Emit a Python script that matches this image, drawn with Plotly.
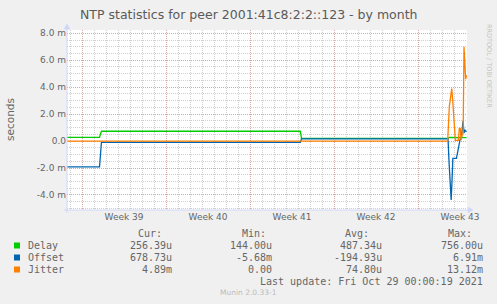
import plotly.graph_objects as go

# ---- data (x = days since Mon 2021-09-27 00:00, start of week 39; y = milliseconds)
delay_x = [-1.25, 1.46, 1.62, 18.19, 18.29, 30.5, 30.6, 32.04]
delay_y = [0.28, 0.28, 0.73, 0.73, 0.20, 0.20, 0.28, 0.26]

offset_x = [-1.25, 1.46, 1.62, 18.19, 18.29, 30.5, 30.58, 30.68, 30.76, 30.83, 30.9,
            31.2, 31.3, 31.4, 31.5, 31.62, 31.75, 31.83, 31.92, 32.04]
offset_y = [-1.92, -1.92, -0.09, -0.09, 0.17, 0.17, -1.5, -3.2, -4.37, -3.0, -1.28,
            -1.28, -0.9, -0.3, 0.1, 0.3, 1.5, 0.6, 0.8, 0.68]

jitter_x = [-1.25, 30.47, 30.61, 30.72, 30.81, 30.89, 31.0, 31.11, 31.36, 31.44, 31.52,
            31.58, 31.69, 31.76, 31.83, 31.9, 31.97, 32.04]
jitter_y = [0.0, 0.0, 2.6, 3.3, 3.9, 3.0, 1.4, 0.05, 0.05, 0.95, 0.95,
            0.05, 0.5, 0.6, 7.0, 6.0, 4.6, 4.9]

week_starts = [0, 7, 14, 21, 28]
week_labels = ["Week 39", "Week 40", "Week 41", "Week 42", "Week 43"]
y_ticks = [-4, -2, 0, 2, 4, 6, 8]
y_labels = ["-4.0 m", "-2.0 m", "0.0", "2.0 m", "4.0 m", "6.0 m", "8.0 m"]

series_names = ["Delay", "Offset", "Jitter"]
series_colors = ["#00CC00", "#0066B3", "#FF8000"]
cur_vals = ["256.39u", "678.73u", "4.89m"]
min_vals = ["144.00u", "-5.68m", "0.00"]
avg_vals = ["487.34u", "-194.93u", "74.80u"]
max_vals = ["756.00u", "6.91m", "13.12m"]

X_RANGE = [-1.25, 32.08]
Y_RANGE = [-5.115, 8.245]

W, H = 497, 304
ML, MR, MT, MB = 67, 30, 30, 94
PW, PH = W - ML - MR, H - MT - MB


def px(x):
    return (x - ML) / PW


def py(y):
    return (MT + PH - y) / PH


FONT = "DejaVu Sans"
MONO = "DejaVu Sans Mono"
FC = "#666666"
AXC = "#CFD6F8"

fig = go.Figure()
for name, xs, ys, c in zip(series_names, [delay_x, offset_x, jitter_x],
                           [delay_y, offset_y, jitter_y], series_colors):
    fig.add_trace(go.Scatter(x=xs, y=ys, mode="lines", name=name,
                             line=dict(color=c, width=1.3), showlegend=False,
                             hoverinfo="skip"))

grid_minor = "rgba(143,143,143,0.42)"
grid_major = "rgba(225,110,110,0.42)"

fig.update_layout(
    width=W, height=H,
    margin=dict(l=ML, r=MR, t=MT, b=MB),
    paper_bgcolor="#F0F0F0", plot_bgcolor="#FFFFFF",
    font=dict(family=FONT, size=9, color=FC),
    xaxis=dict(range=X_RANGE, tickvals=week_starts, ticktext=week_labels,
               ticklabelshift=42, showgrid=True, gridcolor=grid_major,
               griddash="1px,1px", gridwidth=1, zeroline=False, ticks="",
               showline=False, tickfont=dict(size=9, color=FC),
               minor=dict(dtick=1, tick0=0, showgrid=True, gridcolor=grid_minor,
                          griddash="1px,1px", gridwidth=1)),
    yaxis=dict(range=Y_RANGE, tickvals=y_ticks, ticktext=y_labels,
               showgrid=True, gridcolor=grid_major, griddash="1px,1px",
               gridwidth=1, zeroline=False, ticks="", showline=False,
               tickfont=dict(size=9, color=FC),
               minor=dict(dtick=0.5, tick0=0, showgrid=True, gridcolor=grid_minor,
                          griddash="1px,1px", gridwidth=1)),
)

shapes = []
# axes with arrows
shapes.append(dict(type="line", xref="paper", yref="paper", x0=px(64), x1=px(469),
                   y0=py(210), y1=py(210), line=dict(color=AXC, width=1)))
shapes.append(dict(type="line", xref="paper", yref="paper", x0=px(67), x1=px(67),
                   y0=py(213), y1=py(28), line=dict(color=AXC, width=1)))
shapes.append(dict(type="path", xref="paper", yref="paper",
                   path=f"M {px(468)} {py(207)} L {px(473)} {py(210)} L {px(468)} {py(213)} Z",
                   fillcolor=AXC, line=dict(color=AXC, width=0.5)))
shapes.append(dict(type="path", xref="paper", yref="paper",
                   path=f"M {px(64)} {py(29)} L {px(67)} {py(24)} L {px(70)} {py(29)} Z",
                   fillcolor=AXC, line=dict(color=AXC, width=0.5)))
# legend squares
row_y = [245.7, 257.7, 269.7]
for c, ry in zip(series_colors, row_y):
    shapes.append(dict(type="rect", xref="paper", yref="paper",
                       x0=px(14), x1=px(20), y0=py(ry - 3.2), y1=py(ry + 2.8),
                       fillcolor=c, line=dict(width=0)))
fig.update_layout(shapes=shapes)

ann = []


def txt(text, x, y, xanchor="left", size=10, family=MONO, color=FC, angle=0):
    ann.append(dict(text=text, x=px(x), y=py(y), xref="paper", yref="paper",
                    xanchor=xanchor, yanchor="middle", showarrow=False,
                    borderpad=0, textangle=angle,
                    font=dict(family=family, size=size, color=color)))


txt("NTP statistics for peer 2001:41c8:2:2::123 - by month", 248.5, 14,
    xanchor="center", size=12.5, family=FONT, color="#5a5a5a")
txt("seconds", 10, 120, xanchor="center", size=10.5, family=FONT, angle=-90)
txt("RRDTOOL / TOBI OETIKER", 489.5, 66.5, xanchor="center", size=6.5,
    family=FONT, color="#C4C4C4", angle=90)

txt("Cur:", 136.7, 233.3)
txt("Min:", 240.7, 233.3)
txt("Avg:", 344, 233.3)
txt("Max:", 447.3, 233.3)
for i, ry in enumerate(row_y):
    txt(series_names[i], 26.7, ry)
    txt(cur_vals[i], 173, ry, xanchor="right")
    txt(min_vals[i], 273, ry, xanchor="right")
    txt(avg_vals[i], 383, ry, xanchor="right")
    txt(max_vals[i], 484, ry, xanchor="right")
txt("Last update: Fri Oct 29 00:00:19 2021", 484, 281.3, xanchor="right")
txt("Munin 2.0.33-1", 218.7, 292.7, size=7.5, family=FONT, color="#BBBBBB")

fig.update_layout(annotations=ann)
fig.write_html("out.html")
